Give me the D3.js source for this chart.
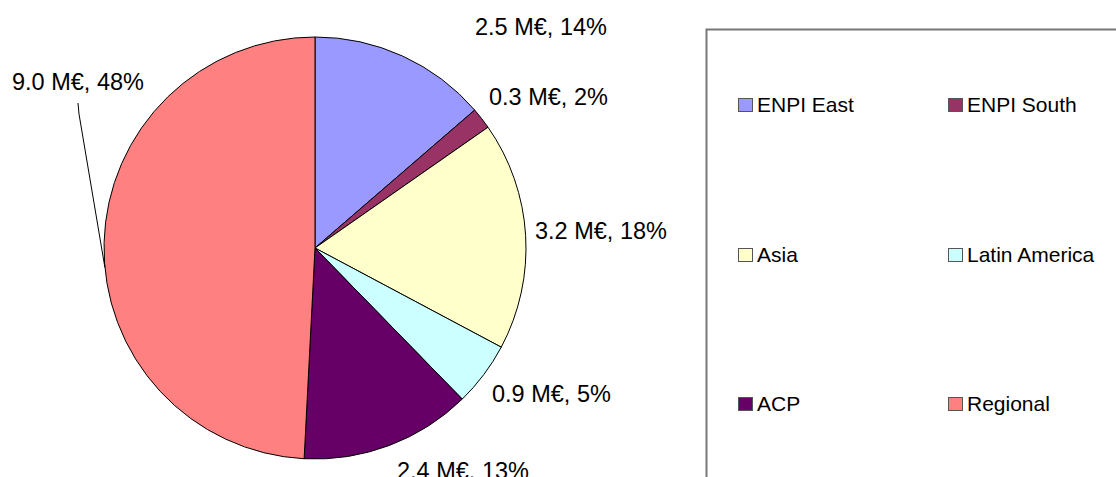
<!DOCTYPE html>
<html>
<head>
<meta charset="utf-8">
<script src="https://cdn.jsdelivr.net/npm/d3@7"></script>
<style>
  body { margin: 0; background: #fff; }
  text { font-family: "Liberation Sans", Arial, sans-serif; fill: #000; }
</style>
</head>
<body>
<div class="chart"></div>
<script>
// chart size
const w = 1116
const h = 477

// data
const categories = ["ENPI East", "ENPI South", "Asia", "Latin America", "ACP", "Regional"]
const amounts = [2.5, 0.3, 3.2, 0.9, 2.4, 9.0]   // M€
const shares = [14, 2, 18, 5, 13, 48]            // % as printed on the labels
const colors = ["#9999ff", "#993366", "#ffffcc", "#ccffff", "#660066", "#ff8080"]

const data = categories.map((c, i) => ({name: c, value: amounts[i], pct: shares[i], color: colors[i]}))

const svg = d3.select(".chart")
  .append("svg")
    .attr("width", w)
    .attr("height", h)

// pie geometry
const cx = 315, cy = 248, r = 211

const pie = d3.pie()
  .sort(null)
  .value(d => d.value)

const arc = d3.arc()
  .innerRadius(0)
  .outerRadius(r)

const g = svg.append("g")
  .attr("transform", `translate(${cx},${cy})`)

const arcs = pie(data)

g.selectAll("path")
  .data(arcs)
  .join("path")
    .attr("d", arc)
    .attr("fill", d => d.data.color)
    .attr("stroke", "#000")
    .attr("stroke-width", 1)

// data labels, offsets from the pie centre tuned to sit like the original
const fmt = d => d.data.value.toFixed(1) + " M€, " + d.data.pct + "%"
const labelAnchor = [
  [160, -213],  // ENPI East
  [174, -143],  // ENPI South
  [220, -9],    // Asia
  [177, 154],   // Latin America
  [82, 231],    // ACP (cut by the bottom edge, as in the original)
  [-303, -158]  // Regional (with leader line)
]

g.selectAll("text.lbl")
  .data(arcs)
  .join("text")
    .attr("class", "lbl")
    .attr("x", (d, i) => labelAnchor[i][0])
    .attr("y", (d, i) => labelAnchor[i][1])
    .attr("font-size", 23.5)
    .text(fmt)

// leader line for the Regional slice, ends on the rim
const edgeA = 4.62
g.append("path")
  .attr("d", d3.line()([[-237, -145], [-236, -134], [Math.sin(edgeA) * r, -Math.cos(edgeA) * r]]))
  .attr("fill", "none")
  .attr("stroke", "#000")
  .attr("stroke-width", 1)

// legend box (runs off the right and bottom edges)
svg.append("rect")
  .attr("x", 706.5)
  .attr("y", 29.5)
  .attr("width", 500)
  .attr("height", 500)
  .attr("fill", "none")
  .attr("stroke", "#777")
  .attr("stroke-width", 2)

const legX = [738, 948]
const legY = [104, 254, 403]

const leg = svg.append("g")
  .selectAll("g")
  .data(data)
  .join("g")
    .attr("transform", (d, i) => `translate(${legX[i % 2]},${legY[Math.floor(i / 2)]})`)

leg.append("rect")
  .attr("x", 0.5)
  .attr("y", -5.5)
  .attr("width", 14)
  .attr("height", 13)
  .attr("fill", d => d.color)
  .attr("stroke", "#555")
  .attr("stroke-width", 1)

leg.append("text")
  .attr("x", 19)
  .attr("y", 7.5)
  .attr("font-size", 21)
  .text(d => d.name)
</script>
</body>
</html>
